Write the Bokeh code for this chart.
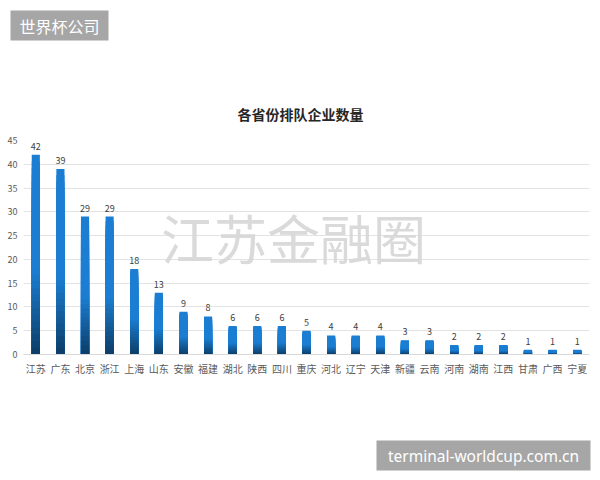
from bokeh.plotting import figure
from bokeh.layouts import column
from bokeh.models import Range1d, FixedTicker, Label, ColumnDataSource, BoxAnnotation
from bokeh.core.properties import value
from bokeh.embed import file_html
from bokeh.resources import INLINE

provinces = ["江苏", "广东", "北京", "浙江", "上海", "山东", "安徽", "福建", "湖北", "陕西",
             "四川", "重庆", "河北", "辽宁", "天津", "新疆", "云南", "河南", "湖南", "江西",
             "甘肃", "广西", "宁夏"]
counts = [42, 39, 29, 29, 18, 13, 9, 8, 6, 6, 6, 5, 4, 4, 4, 3, 3, 2, 2, 2, 1, 1, 1]
y_ticks = [0, 5, 10, 15, 20, 25, 30, 35, 40, 45]
title_text = "各省份排队企业数量"
watermark_text = "江苏金融圈"
badge_left_text = "世界杯公司"
badge_right_text = "terminal-worldcup.com.cn"

CJK = "Noto Sans CJK SC"
GRAY_BADGE = "#a6a6a6"


def blank_fig(h):
    f = figure(width=600, height=h, x_range=Range1d(0, 1), y_range=Range1d(0, 1),
               output_backend="svg", toolbar_location=None,
               x_axis_location=None, y_axis_location=None,
               min_border=0, min_border_left=0, min_border_right=0,
               min_border_top=0, min_border_bottom=0)
    f.outline_line_color = None
    f.background_fill_color = "white"
    f.border_fill_color = "white"
    f.grid.visible = False
    f.frame_align = False
    return f


# ---------- top strip: badge + title ----------
top = blank_fig(130)
top.add_layout(BoxAnnotation(left=10, right=108, top=120, bottom=90, left_units="screen",
                             right_units="screen", top_units="screen", bottom_units="screen",
                             fill_color=GRAY_BADGE, fill_alpha=1.0, line_color=None))
top.add_layout(Label(x=59, y=105, x_units="screen", y_units="screen", text=badge_left_text,
                     text_align="center", text_baseline="middle", text_font=CJK,
                     text_font_size="16px", text_color="white"))
top.add_layout(Label(x=300, y=17, x_units="screen", y_units="screen", text=title_text,
                     text_align="center", text_baseline="middle", text_font=CJK,
                     text_font_size="14px", text_font_style="bold", text_color="#262626"))

# ---------- main chart ----------
p = figure(width=600, height=300, x_range=provinces, y_range=Range1d(0, 45),
           output_backend="svg", toolbar_location=None,
           min_border_left=23, min_border_right=11, min_border_top=10, min_border_bottom=76)
p.frame_align = False
p.x_range.range_padding = 0
p.outline_line_color = None
p.background_fill_color = "white"
p.border_fill_color = "white"

# gradient bars: overlapping bars from base, drawn largest first (dark at base -> bright blue)
dark = (12, 60, 102)
bright = (27, 126, 210)
nseg = 30
seg_x, seg_top, seg_col = [], [], []
for i in reversed(range(nseg)):
    fm = (i + 0.5) / nseg
    t = min(fm / 0.42, 1.0)
    c = tuple(int(round(d + (b - d) * t)) for d, b in zip(dark, bright))
    for cat, v in zip(provinces, counts):
        seg_x.append(cat)
        seg_top.append(v * (i + 1) / nseg)
        seg_col.append("#%02x%02x%02x" % c)
p.vbar(x=seg_x, bottom=0, top=seg_top, width=0.33, fill_color=seg_col, line_color=None)

src = ColumnDataSource(data=dict(x=provinces, y=counts, t=[str(c) for c in counts]))
p.text(x="x", y="y", text="t", source=src, text_align="center", text_baseline="bottom",
       y_offset=-5, text_font_size="9px", text_color="#404040", text_font=value(CJK))

p.yaxis.ticker = FixedTicker(ticks=y_ticks)
p.yaxis.axis_line_color = None
p.yaxis.major_tick_line_color = None
p.yaxis.major_tick_out = 0
p.yaxis.minor_tick_line_color = None
p.yaxis.minor_tick_out = 0
p.yaxis.major_label_text_font_size = "9px"
p.yaxis.major_label_text_color = "#595959"
p.yaxis.major_label_text_font = CJK
p.yaxis.major_label_standoff = 6

p.xaxis.axis_line_color = "#d9d9d9"
p.xaxis.major_tick_line_color = None
p.xaxis.major_tick_out = 0
p.xaxis.minor_tick_line_color = None
p.xaxis.minor_tick_out = 0
p.xaxis.major_label_text_font_size = "10px"
p.xaxis.major_label_text_color = "#595959"
p.xaxis.major_label_text_font = CJK
p.xaxis.major_label_standoff = 6

p.xgrid.grid_line_color = None
p.ygrid.grid_line_color = "#e3e3e3"
p.ygrid.grid_line_width = 1

p.add_layout(Label(x=270, y=118, x_units="screen", y_units="screen", text=watermark_text,
                   text_align="center", text_baseline="middle", text_font=CJK,
                   text_font_size="53px", text_color="#d6d6d6", text_alpha=0.9))

# ---------- bottom strip: url badge ----------
bottom = blank_fig(50)
bottom.add_layout(BoxAnnotation(left=376, right=590, top=40, bottom=10, left_units="screen",
                                right_units="screen", top_units="screen", bottom_units="screen",
                                fill_color=GRAY_BADGE, fill_alpha=1.0, line_color=None))
bottom.add_layout(Label(x=483, y=25, x_units="screen", y_units="screen", text=badge_right_text,
                        text_align="center", text_baseline="middle", text_font="Noto Sans",
                        text_font_size="15.5px", text_color="white"))

layout = column(top, p, bottom, spacing=0)
open("out.html", "w").write(file_html(layout, INLINE))
